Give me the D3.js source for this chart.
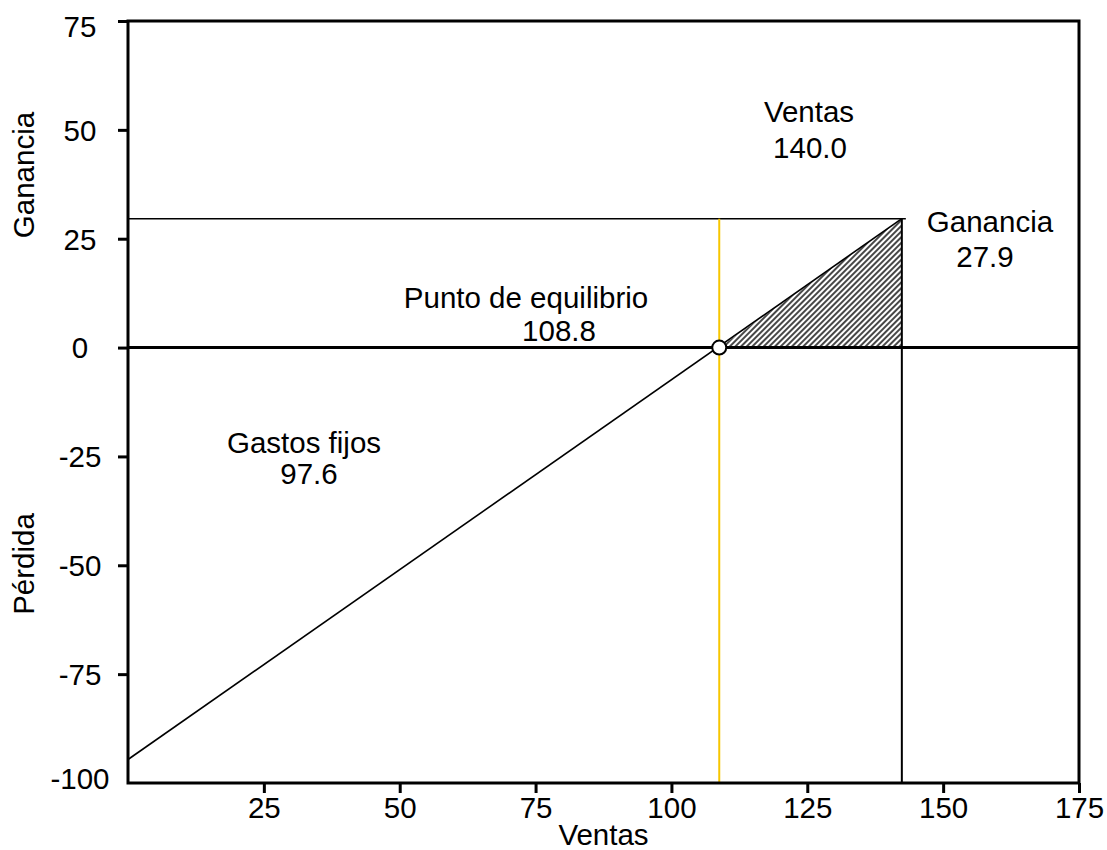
<!DOCTYPE html>
<html>
<head>
<meta charset="utf-8">
<script src="https://cdn.jsdelivr.net/npm/d3@7"></script>
<style>
  body { margin: 0; background: #fff; }
  text { font-family: "Liberation Sans", Arial, sans-serif; fill: #000; }
</style>
</head>
<body>
<svg id="chart"></svg>
<script>
// Data
const xTicks = [25, 50, 75, 100, 125, 150, 175];
const yTicks = [-100, -75, -50, -25, 0, 25, 50, 75];
const breakEven = 108.8;
const salesLine = [[0, -94.6], [142.4, 29.6]];
const profitTriangle = [[108.8, 0], [142.4, 29.6], [142.4, 0]];
const labelNames = ["Ventas", "Ganancia", "Punto de equilibrio", "Gastos fijos"];
const labelValues = ["140.0", "27.9", "108.8", "97.6"];

const width = 1107;
const height = 850;
const margin = { left: 128, right: 28, top: 21, bottom: 67 };
const fontSize = "29.5px";

const svg = d3.select("#chart")
  .attr("width", width)
  .attr("height", height);

const x = d3.scaleLinear().domain([0, 175]).range([margin.left, width - margin.right]);
const y = d3.scaleLinear().domain([-100, 75]).range([height - margin.bottom, margin.top]);

// hatch pattern for the profit area
const defs = svg.append("defs");
const pat = defs.append("pattern")
  .attr("id", "hatch")
  .attr("patternUnits", "userSpaceOnUse")
  .attr("width", 4)
  .attr("height", 4)
  .attr("patternTransform", "rotate(45)");
pat.append("rect").attr("width", 4).attr("height", 4).attr("fill", "#fff");
pat.append("line")
  .attr("x1", 1).attr("y1", 0).attr("x2", 1).attr("y2", 4)
  .attr("stroke", "#333").attr("stroke-width", 1.8);

svg.append("path")
  .datum(profitTriangle)
  .attr("d", d => "M" + d.map(p => [x(p[0]), y(p[1])].join(",")).join("L") + "Z")
  .attr("fill", "url(#hatch)")
  .attr("stroke", "none");

const peak = salesLine[1];

// horizontal line at the profit level
svg.append("line")
  .attr("x1", x(0)).attr("x2", x(peak[0]) + 4)
  .attr("y1", y(peak[1])).attr("y2", y(peak[1]))
  .attr("stroke", "#000").attr("stroke-width", 1.5);

// vertical line at the sales value
svg.append("line")
  .attr("x1", x(peak[0])).attr("x2", x(peak[0]))
  .attr("y1", y(peak[1])).attr("y2", y(-100))
  .attr("stroke", "#000").attr("stroke-width", 2);

// yellow break-even line
svg.append("line")
  .attr("x1", x(breakEven)).attr("x2", x(breakEven))
  .attr("y1", y(peak[1])).attr("y2", y(-100))
  .attr("stroke", "#f7c600").attr("stroke-width", 2);

// sales line
svg.append("line")
  .attr("x1", x(salesLine[0][0])).attr("y1", y(salesLine[0][1]))
  .attr("x2", x(salesLine[1][0])).attr("y2", y(salesLine[1][1]))
  .attr("stroke", "#000").attr("stroke-width", 1.6);

// zero line
svg.append("line")
  .attr("x1", x(0)).attr("x2", x(175))
  .attr("y1", y(0)).attr("y2", y(0))
  .attr("stroke", "#000").attr("stroke-width", 3);

// frame
svg.append("rect")
  .attr("x", x(0)).attr("y", y(75))
  .attr("width", x(175) - x(0)).attr("height", y(-100) - y(75))
  .attr("fill", "none").attr("stroke", "#000").attr("stroke-width", 3);

// axes
const xAxis = svg.append("g")
  .attr("transform", `translate(0, ${y(-100)})`)
  .call(d3.axisBottom(x).tickValues(xTicks).tickSize(10).tickPadding(4).tickFormat(d => String(d)));
xAxis.select(".domain").remove();
xAxis.selectAll(".tick line").attr("stroke", "#000").attr("stroke-width", 3);
xAxis.selectAll(".tick text").style("font-size", fontSize).attr("fill", "#000");

const yAxis = svg.append("g")
  .attr("transform", `translate(${x(0)}, 0)`)
  .call(d3.axisLeft(y).tickValues(yTicks).tickSize(10).tickFormat(d => String(d)));
yAxis.select(".domain").remove();
yAxis.selectAll(".tick line")
  .attr("stroke", "#000").attr("stroke-width", 3)
  .attr("display", d => d === -100 ? "none" : null);
yAxis.selectAll(".tick text")
  .style("font-size", fontSize)
  .attr("fill", "#000")
  .attr("text-anchor", "middle")
  .attr("x", -48)
  .attr("dy", d => d === 75 ? "0.52em" : d === -100 ? "0.18em" : "0.35em");

// annotations
const labelPos = [
  [[809, 122], [810, 158]],
  [[990, 232], [985, 267]],
  [[526, 308], [559, 341]],
  [[304, 453], [309, 484]]
];
labelNames.forEach((name, i) => {
  svg.append("text")
    .attr("x", labelPos[i][0][0]).attr("y", labelPos[i][0][1])
    .attr("text-anchor", "middle")
    .style("font-size", fontSize)
    .text(name);
  svg.append("text")
    .attr("x", labelPos[i][1][0]).attr("y", labelPos[i][1][1])
    .attr("text-anchor", "middle")
    .style("font-size", fontSize)
    .text(labelValues[i]);
});

// break-even marker
svg.append("circle")
  .attr("cx", x(breakEven)).attr("cy", y(0))
  .attr("r", 7)
  .attr("fill", "#fff").attr("stroke", "#000").attr("stroke-width", 2);

// axis titles
svg.append("text")
  .attr("x", (x(0) + x(175)) / 2).attr("y", 845)
  .attr("text-anchor", "middle")
  .style("font-size", fontSize)
  .text("Ventas");

svg.append("text")
  .attr("transform", "translate(34, 175) rotate(-90)")
  .attr("text-anchor", "middle")
  .style("font-size", fontSize)
  .text("Ganancia");

svg.append("text")
  .attr("transform", "translate(34, 564) rotate(-90)")
  .attr("text-anchor", "middle")
  .style("font-size", fontSize)
  .text("Pérdida");
</script>
</body>
</html>
